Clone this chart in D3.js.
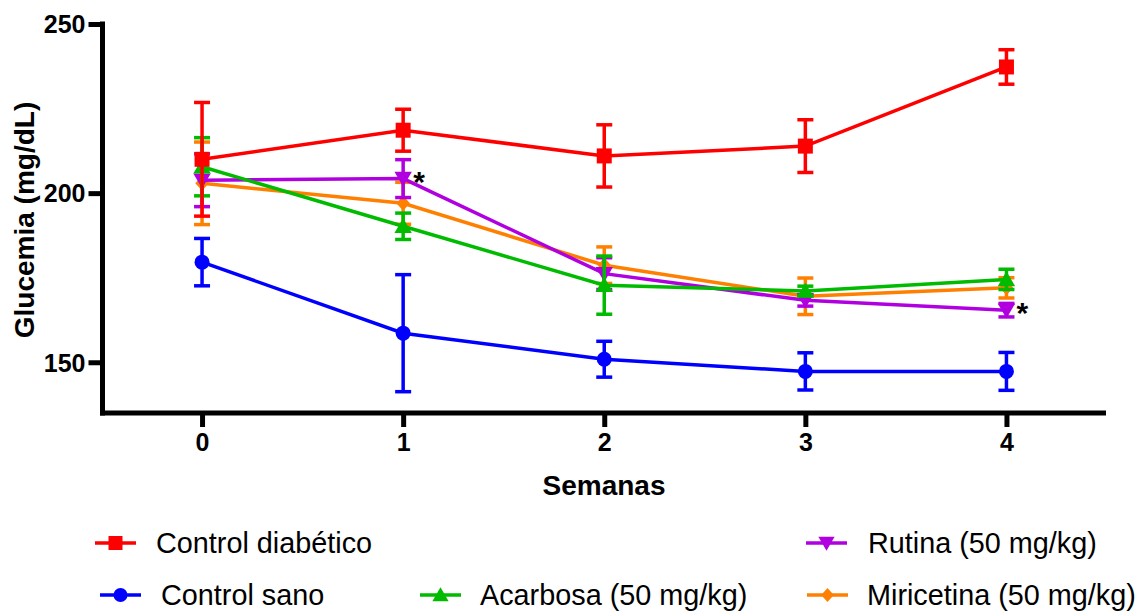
<!DOCTYPE html>
<html>
<head>
<meta charset="utf-8">
<script src="https://cdn.jsdelivr.net/npm/d3@7"></script>
<style>
  html, body { margin: 0; padding: 0; background: #fff; }
  svg { display: block; }
</style>
</head>
<body>
<svg id="chart" width="1138" height="611"></svg>
<script>
// Weeks of treatment
const weeks = [0, 1, 2, 3, 4];
const yTicks = [150, 200, 250];

// Mean glycemia (mg/dL) and SEM per group
const controlDiabetico = [210, 218.6, 211, 213.9, 237.3];
const controlDiabeticoErr = [16.8, 6.2, 9.2, 7.8, 5.1];
const controlSano = [179.6, 158.6, 150.9, 147.3, 147.3];
const controlSanoErr = [7.0, 17.3, 5.3, 5.5, 5.6];
const acarbosa = [207.8, 190.2, 172.8, 171.1, 174.5];
const acarbosaErr = [8.6, 3.9, 8.6, 1.4, 3.0];
const rutina = [203.8, 204.3, 176.2, 168.3, 165.4];
const rutinaErr = [7.8, 5.6, 4.7, 1.7, 2.0];
const miricetina = [202.9, 197.0, 178.7, 169.5, 172.0];
const miricetinaErr = [12.2, 6.2, 5.4, 5.4, 3.0];

const seriesNames = ["Control diabético", "Control sano", "Acarbosa (50 mg/kg)", "Rutina (50 mg/kg)", "Miricetina (50 mg/kg)"];
const seriesColors = ["#ff0000", "#0000ff", "#00bb00", "#b000e0", "#ff8000"];
const seriesSymbols = ["square", "circle", "triangleUp", "triangleDown", "diamond"];

// Significance marks: [series index, week]
const starMarks = [[3, 1], [3, 4]];

const series = [
  { name: seriesNames[0], color: seriesColors[0], symbol: seriesSymbols[0], values: controlDiabetico, err: controlDiabeticoErr },
  { name: seriesNames[1], color: seriesColors[1], symbol: seriesSymbols[1], values: controlSano, err: controlSanoErr },
  { name: seriesNames[2], color: seriesColors[2], symbol: seriesSymbols[2], values: acarbosa, err: acarbosaErr },
  { name: seriesNames[3], color: seriesColors[3], symbol: seriesSymbols[3], values: rutina, err: rutinaErr },
  { name: seriesNames[4], color: seriesColors[4], symbol: seriesSymbols[4], values: miricetina, err: miricetinaErr }
];

const svg = d3.select("#chart");
const plotLeft = 102.5, plotRight = 1106, plotTop = 24, plotBottom = 413;

const x = d3.scaleLinear().domain([-0.5, 4.5]).range([101.5, 1107]);
const y = d3.scaleLinear().domain([135, 250]).range([plotBottom, plotTop]);

// Marker drawing
function symbolPath(sym, s) {
  switch (sym) {
    case "square": return `M${-s/2},${-s/2}h${s}v${s}h${-s}Z`;
    case "circle": return d3.symbol(d3.symbolCircle, Math.PI * (s/2) * (s/2))();
    case "triangleUp": return `M0,${-s*0.55}L${s*0.58},${s*0.45}L${-s*0.58},${s*0.45}Z`;
    case "triangleDown": return `M0,${s*0.55}L${s*0.58},${-s*0.45}L${-s*0.58},${-s*0.45}Z`;
    case "diamond": return `M0,${-s*0.5}L${s*0.45},0L0,${s*0.5}L${-s*0.45},0Z`;
  }
}

// Axes
const fontFam = "'Liberation Sans', Arial, sans-serif";
const axisWidth = 5;

const yAxis = svg.append("g")
  .attr("transform", `translate(${plotLeft},0)`)
  .call(d3.axisLeft(y).tickValues(yTicks).tickFormat(d3.format("d"))
    .tickSize(14).tickPadding(3).tickSizeOuter(0));
yAxis.select(".domain").attr("stroke", "#000").attr("stroke-width", axisWidth)
  .attr("d", `M0,${plotTop - 2.5}V${plotBottom + 2.5}`);
yAxis.selectAll(".tick line").attr("stroke", "#000").attr("stroke-width", axisWidth);
yAxis.selectAll(".tick text").attr("font-family", fontFam).attr("font-weight", "bold")
  .attr("font-size", 25).attr("fill", "#000").attr("dy", "0.35em");

const xAxis = svg.append("g")
  .attr("transform", `translate(0,${plotBottom})`)
  .call(d3.axisBottom(x).tickValues(weeks).tickFormat(d3.format("d"))
    .tickSize(14).tickPadding(6).tickSizeOuter(0));
xAxis.select(".domain").attr("stroke", "#000").attr("stroke-width", axisWidth)
  .attr("d", `M${plotLeft - 2.5},0H${plotRight}`);
xAxis.selectAll(".tick line").attr("stroke", "#000").attr("stroke-width", axisWidth);
xAxis.selectAll(".tick text").attr("font-family", fontFam).attr("font-weight", "bold")
  .attr("font-size", 25).attr("fill", "#000");

// Axis titles
svg.append("text")
  .attr("transform", `translate(34,220) rotate(-90)`)
  .attr("text-anchor", "middle")
  .attr("font-family", fontFam).attr("font-weight", "bold").attr("font-size", 28)
  .text("Glucemia (mg/dL)");

svg.append("text")
  .attr("x", 604).attr("y", 495)
  .attr("text-anchor", "middle")
  .attr("font-family", fontFam).attr("font-weight", "bold").attr("font-size", 28)
  .text("Semanas");

// Series, drawn last-first so the diabetic control sits on top
const line = d3.line().x((d, i) => x(weeks[i])).y(d => y(d));
const capHalf = 8;

series.slice().reverse().forEach(s => {
  const g = svg.append("g");
  g.append("path").datum(s.values)
    .attr("d", line).attr("fill", "none").attr("stroke", s.color).attr("stroke-width", 3.5);
  const eb = g.selectAll(".eb").data(s.values).enter().append("g");
  eb.append("line")
    .attr("x1", (d, i) => x(weeks[i])).attr("x2", (d, i) => x(weeks[i]))
    .attr("y1", (d, i) => y(d + s.err[i])).attr("y2", (d, i) => y(d - s.err[i]))
    .attr("stroke", s.color).attr("stroke-width", 3.5);
  eb.append("line")
    .attr("x1", (d, i) => x(weeks[i]) - capHalf).attr("x2", (d, i) => x(weeks[i]) + capHalf)
    .attr("y1", (d, i) => y(d + s.err[i])).attr("y2", (d, i) => y(d + s.err[i]))
    .attr("stroke", s.color).attr("stroke-width", 3.5);
  eb.append("line")
    .attr("x1", (d, i) => x(weeks[i]) - capHalf).attr("x2", (d, i) => x(weeks[i]) + capHalf)
    .attr("y1", (d, i) => y(d - s.err[i])).attr("y2", (d, i) => y(d - s.err[i]))
    .attr("stroke", s.color).attr("stroke-width", 3.5);
  g.selectAll(".mk").data(s.values).enter().append("path")
    .attr("transform", (d, i) => `translate(${x(weeks[i])},${y(d)})`)
    .attr("d", symbolPath(s.symbol, 15))
    .attr("fill", s.color);
});

// Significance asterisks
starMarks.forEach(([si, wi]) => {
  svg.append("text")
    .attr("x", x(weeks[wi]) + 10).attr("y", y(series[si].values[wi]) + 13)
    .attr("font-family", fontFam).attr("font-weight", "bold").attr("font-size", 30)
    .attr("fill", "#000").text("*");
});

// Legend
const legendItems = [
  { idx: 0, lx: 95, tx: 156, cy: 543 },
  { idx: 3, lx: 806, tx: 868, cy: 543 },
  { idx: 1, lx: 100, tx: 161, cy: 595 },
  { idx: 2, lx: 420, tx: 480, cy: 595 },
  { idx: 4, lx: 807, tx: 867, cy: 595 }
];
legendItems.forEach(it => {
  const s = series[it.idx];
  const g = svg.append("g");
  g.append("line").attr("x1", it.lx).attr("x2", it.lx + 41).attr("y1", it.cy).attr("y2", it.cy)
    .attr("stroke", s.color).attr("stroke-width", 3.5);
  g.append("path").attr("transform", `translate(${it.lx + 20.5},${it.cy})`)
    .attr("d", symbolPath(s.symbol, 14)).attr("fill", s.color);
  g.append("text").attr("x", it.tx).attr("y", it.cy + 10)
    .attr("font-family", fontFam).attr("font-size", 28.8).attr("fill", "#000")
    .text(s.name);
});
</script>
</body>
</html>
